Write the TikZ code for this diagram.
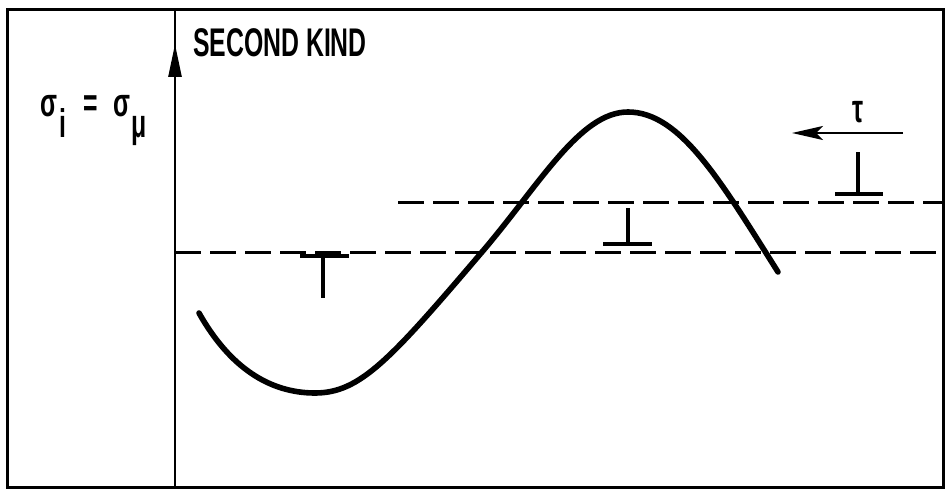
\documentclass[tikz,border=0pt]{standalone}
\usepackage{fontspec}
\newfontfamily\lab[FakeStretch=0.62]{Liberation Sans}
\usetikzlibrary{arrows.meta}
\tikzset{
  frameline/.style={line width=3pt},
  axisline/.style={line width=2.6pt},
  dashline/.style={line width=3pt, dash pattern=on 26pt off 9pt},
  curveline/.style={line width=5.6pt, line cap=round},
  dislo/.style={line width=4.4pt},
  lbl/.style={inner sep=0pt, font=\lab\bfseries\fontsize{40}{40}\selectfont},
}
\begin{document}
\begin{tikzpicture}[x=1pt,y=-1pt]
\useasboundingbox (0,0) rectangle (945,492);
% frame
\draw[frameline] (7,10) rectangle (943,487);
% axis
\coordinate (axb) at (175,487);
\coordinate (axt) at (175,10);
\coordinate (ahb) at (175,100);
\coordinate (aht) at (175,44);
\draw[axisline] (axb) -- (axt);
\draw[axisline,-{Triangle[length=33pt,width=13pt]}] (ahb) -- (aht);
% labels
\node[lbl, anchor=base west] (title) at (193,57) {SECOND KIND};
\node[lbl, anchor=base] (s1) at (49,117) {σ};
\node[lbl, anchor=base] (si) at (63,138) {i};
\node[lbl, anchor=base] (eq) at (91,117) {=};
\node[lbl, anchor=base] (s2) at (122,117) {σ};
\node[lbl, anchor=base] (smu) at (139,138) {μ};
\node[lbl, anchor=base] (tau) at (858,123) {τ};
% dashed lines
\coordinate (d1a) at (175,252);
\coordinate (d1b) at (942,252);
\coordinate (d2a) at (398,202);
\coordinate (d2b) at (942,202);
\draw[dashline] (d1a) -- (d1b);
\draw[dashline] (d2a) -- (d2b);
% curve
\coordinate (c0) at (199,313);
\coordinate (c1) at (315,393);
\coordinate (c2) at (482,252);
\coordinate (c3) at (628,112);
\coordinate (c4) at (778,272);
\draw[curveline] (c0) .. controls (230,368) and (270,393) .. (c1)
  .. controls (360,393) and (390,360) .. (c2)
  .. controls (540,184) and (580,112) .. (c3)
  .. controls (680,112) and (720,180) .. (c4);
% shear arrow
\coordinate (tt) at (903,133);
\coordinate (th) at (792,133);
\draw[line width=2.4pt,-{Stealth[length=31pt,width=14pt,inset=7pt]}] (tt) -- (th);
% dislocations
\draw[dislo] (300,256) -- (349,256) (323,256) -- (323,298);
\draw[dislo] (603,244) -- (652,244) (628,244) -- (628,208);
\draw[dislo] (835,194) -- (883,194) (858,194) -- (858,152);
\end{tikzpicture}
\end{document}
